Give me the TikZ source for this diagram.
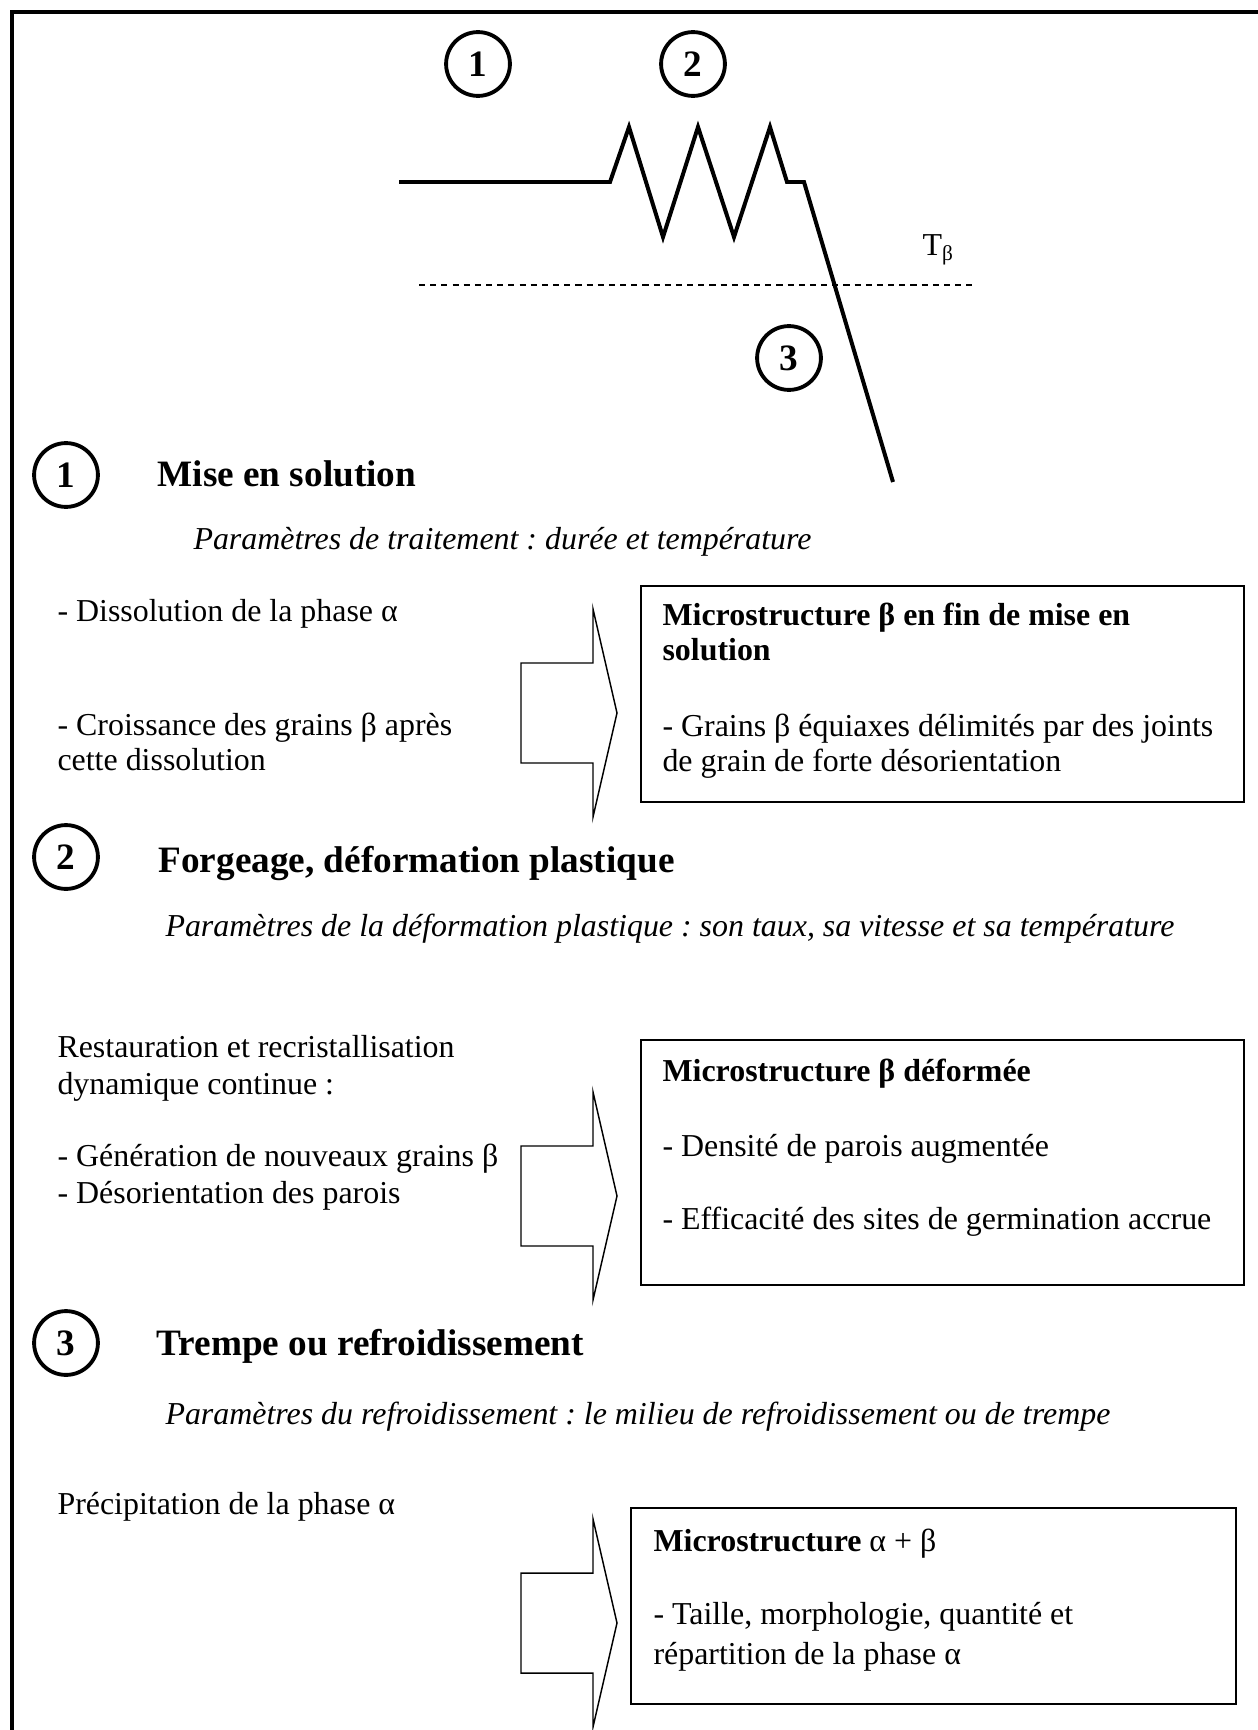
\documentclass[tikz,border=0pt]{standalone}
\usepackage{fontspec}
\setmainfont{Liberation Serif}
\usetikzlibrary{fit}
\frenchspacing
\begin{document}
\begin{tikzpicture}[x=0.376pt,y=-0.376pt,
  body/.style={anchor=base west, inner sep=0pt, font=\fontsize{12}{13.8}\selectfont},
  ital/.style={anchor=base west, inner sep=0pt, font=\fontsize{12}{13.8}\selectfont\itshape},
  btitle/.style={anchor=base west, inner sep=0pt, font=\fontsize{12}{13.8}\selectfont\bfseries},
  head/.style={anchor=base west, inner sep=0pt, font=\fontsize{14}{16}\selectfont\bfseries},
  num/.style={circle, draw, line width=1.45pt, minimum size=24pt, inner sep=0pt, font=\fontsize{14}{16}\selectfont\bfseries},
  box/.style={draw, line width=0.7pt, inner sep=0pt},
  curve/.style={line width=1.5pt, line join=miter},
  barrow/.pic={\draw[line width=0.55pt, line join=miter] (0,-50) -- (72,-50) -- (72,-104) -- (96,0) -- (72,104) -- (72,50) -- (0,50) -- cycle;}
]
\useasboundingbox (0,0) rectangle (1257,1730);
% outer frame (cropped on the right and bottom)
\draw[line width=1.5pt] (1262,12) -- (12,12) -- (12,1735);

% temperature path
\draw[curve] (399,182) -- (610,182) -- (629,127) -- (663,237) -- (698,127) -- (734,237) -- (770,127) -- (787,182) -- (804,182) -- (893,482);
\draw[line width=0.55pt, dash pattern=on 2.3pt off 1.9pt] (419,285) -- (973,285);
\node[body] (tb) at (922,256) {T\textsubscript{β}};
\node[num] (c1) at (478,64) {1};
\node[num] (c2) at (693,64) {2};
\node[num] (c3) at (789,358) {3};

% section 1
\node[num] (n1) at (66,475) {1};
\node[head] (h1) at (157,486) {Mise en solution};
\node[ital] (p1) at (193,549) {Paramètres de traitement : durée et température};
\node[body] (l1a) at (57,621) {- Dissolution de la phase α};
\node[body] (l1b) at (57,735) {- Croissance des grains β après};
\node[body] (l1c) at (57,770) {cette dissolution};
\pic at (521,713) {barrow};
\coordinate (b1nw) at (641,586); \coordinate (b1se) at (1244,802);
\node[box, fit=(b1nw)(b1se)] (box1) {};
\node[btitle] (t1a) at (662,625) {Microstructure β en fin de mise en};
\node[btitle] (t1b) at (662,660) {solution};
\node[body] (t1c) at (662,736) {- Grains β équiaxes délimités par des joints};
\node[body] (t1d) at (662,771) {de grain de forte désorientation};

% section 2
\node[num] (n2) at (66,857) {2};
\node[head] (h2) at (158,872) {Forgeage, déformation plastique};
\node[ital] (p2) at (165,936) {Paramètres de la déformation plastique : son taux, sa vitesse et sa température};
\node[body] (l2a) at (57,1057) {Restauration et recristallisation};
\node[body] (l2b) at (57,1094) {dynamique continue :};
\node[body] (l2c) at (57,1166) {- Génération de nouveaux grains β};
\node[body] (l2d) at (57,1203) {- Désorientation des parois};
\pic at (521,1196) {barrow};
\coordinate (b2nw) at (641,1040); \coordinate (b2se) at (1244,1285);
\node[box, fit=(b2nw)(b2se)] (box2) {};
\node[btitle] (t2a) at (662,1081) {Microstructure β déformée};
\node[body] (t2b) at (662,1156) {- Densité de parois augmentée};
\node[body] (t2c) at (662,1229) {- Efficacité des sites de germination accrue};

% section 3
\node[num] (n3) at (66,1343) {3};
\node[head] (h3) at (156,1355) {Trempe ou refroidissement};
\node[ital] (p3) at (165,1424) {Paramètres du refroidissement : le milieu de refroidissement ou de trempe};
\node[body] (l3a) at (57,1514) {Précipitation de la phase α};
\pic at (521,1623) {barrow};
\coordinate (b3nw) at (631,1508); \coordinate (b3se) at (1236,1704);
\node[box, fit=(b3nw)(b3se)] (box3) {};
\node[btitle] (t3a) at (653,1551) {Microstructure {\mdseries α + β}};
\node[body] (t3b) at (653,1624) {- Taille, morphologie, quantité et};
\node[body] (t3c) at (653,1664) {répartition de la phase α};
\end{tikzpicture}
\end{document}
